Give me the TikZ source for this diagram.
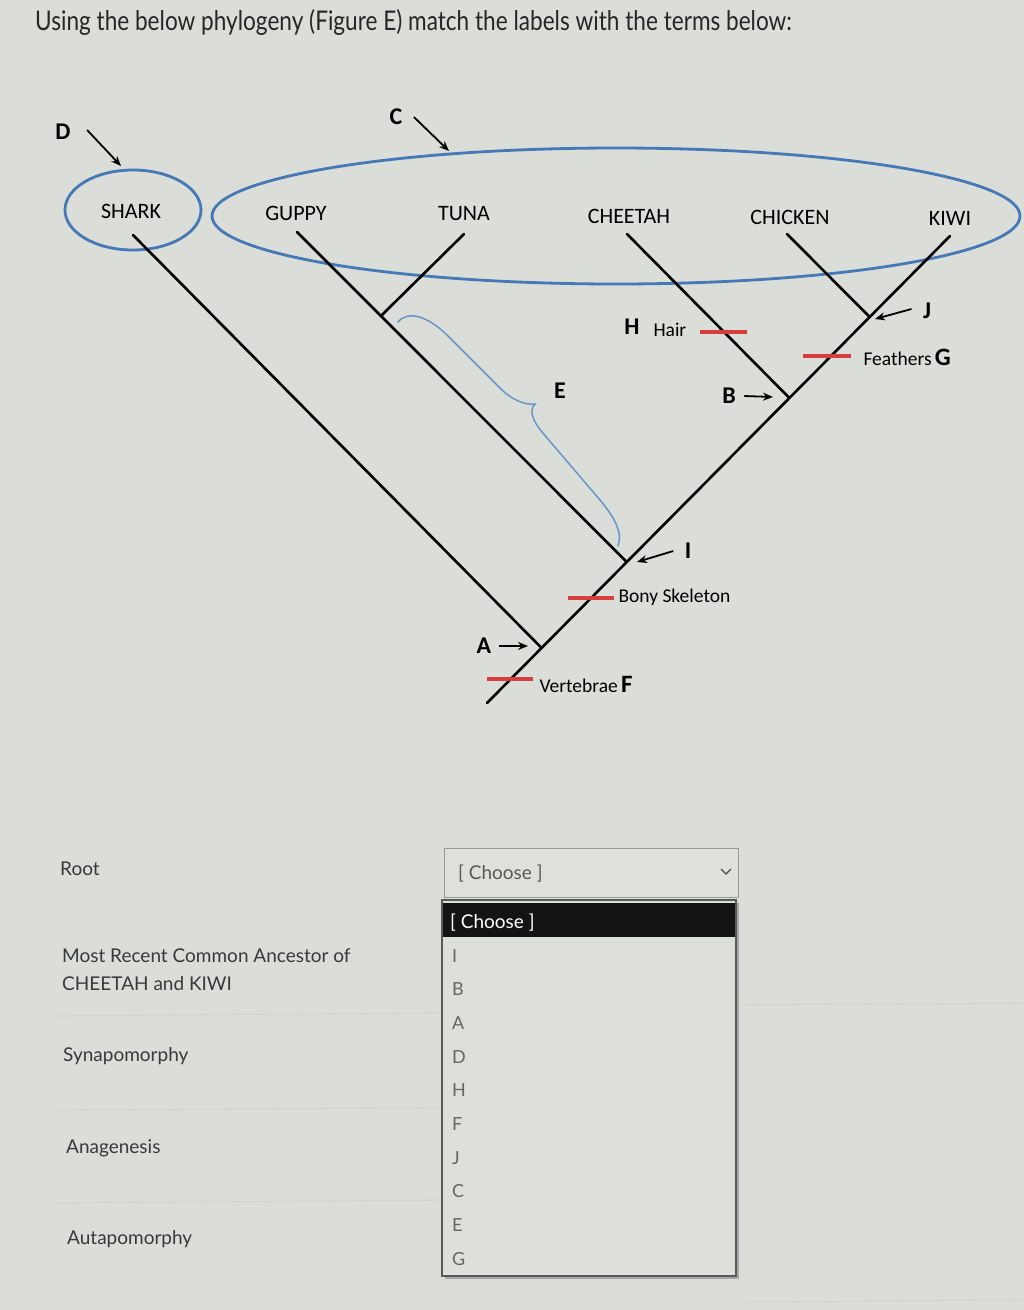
\documentclass[tikz,border=0pt]{standalone}
\usepackage{fontspec}
\setmainfont{Lato}
\newfontfamily\carl{Carlito}
\usetikzlibrary{arrows.meta}
\definecolor{bg}{RGB}{218,221,216}
\definecolor{clade}{RGB}{70,120,182}
\definecolor{bracec}{RGB}{105,150,200}
\definecolor{synred}{RGB}{214,62,62}
\definecolor{formtxt}{RGB}{55,58,58}
\tikzset{
  branch/.style={line width=2.6pt, black, line cap=round},
  cladeline/.style={line width=2.8pt, clade},
  synbar/.style={line width=3.2pt, synred},
  ptr/.style={line width=1.8pt, black, -{Stealth[length=10pt,width=8pt]}},
  taxon/.style={font=\carl\fontsize{22}{24}\selectfont},
  charlbl/.style={font=\carl\fontsize{19.5}{22}\selectfont, anchor=west},
  letter/.style={font=\carl\bfseries\fontsize{24}{26}\selectfont},
  formlbl/.style={font=\fontsize{19}{22}\selectfont, text=formtxt, anchor=base west, inner sep=0pt},
  item/.style={font=\fontsize{18}{20}\selectfont, text=black!60, anchor=base west, inner sep=0pt},
  sep/.style={line width=0.8pt, black!18}
}
\begin{document}
\begin{tikzpicture}[x=1pt,y=-1pt]
\fill[bg] (0,0) rectangle (1024,1310);
\useasboundingbox (0,0) rectangle (1024,1310);

% title
\node[anchor=base west, inner sep=0pt, font=\fontsize{22.6}{26}\selectfont, text=black!85] (title) at (35,30)
  {\scalebox{1}[1.2]{Using the below phylogeny (Figure E) match the labels with the terms below:}};

% clade ellipses
\draw[cladeline] (133,210) ellipse [x radius=68, y radius=40];
\draw[cladeline] (616,216) ellipse [x radius=404, y radius=68];

% tree coordinates
\coordinate (root) at (487,703);
\coordinate (kiwi) at (950,236);
\coordinate (nA) at (541.6,648);
\coordinate (nI) at (626.8,562);
\coordinate (nB) at (789.4,398);
\coordinate (nJ) at (869.7,317);
\coordinate (shark) at (133,235);
\coordinate (guppy) at (297,232);
\coordinate (tuna) at (464,234);
\coordinate (nT) at (380.9,316);
\coordinate (cheetah) at (627,234);
\coordinate (chicken) at (787,234);

\draw[branch] (root) -- (kiwi);
\draw[branch] (nA) -- (shark);
\draw[branch] (nI) -- (guppy);
\draw[branch] (nT) -- (tuna);
\draw[branch] (nB) -- (cheetah);
\draw[branch] (nJ) -- (chicken);

% taxon labels
\node[taxon] (tShark) at (131,211) {SHARK};
\node[taxon] (tGuppy) at (296,213) {GUPPY};
\node[taxon] (tTuna) at (464,214) {TUNA};
\node[taxon] (tCheetah) at (629,216) {CHEETAH};
\node[taxon] (tChicken) at (790,217) {CHICKEN};
\node[taxon] (tKiwi) at (950,218) {KIWI};

% synapomorphy bars
\draw[synbar] (487,679) -- (533,679);
\draw[synbar] (568,598) -- (614,598);
\draw[synbar] (700,332) -- (747,332);
\draw[synbar] (803,356) -- (851,356);

\node[charlbl] (cVert) at (536,684) {Vertebrae\,{\bfseries\fontsize{25}{26}\selectfont F}};
\node[charlbl] (cBony) at (615,597) {Bony Skeleton};
\node[charlbl] (cHair) at (650,330) {Hair};
\node[letter] (lH) at (632,327) {H};
\node[charlbl] (cFeath) at (860,357) {Feathers\,{\bfseries\fontsize{25}{26}\selectfont G}};

% brace E
\draw[line width=1.5pt, bracec, line cap=round]
  (398,322) .. controls (408,310) and (428,316) .. (448,336)
  -- (500,388) .. controls (512,400) and (524,405) .. (535,404)
  .. controls (529,410) and (532,420) .. (542,432)
  -- (600,500) .. controls (614,517) and (623,532) .. (618,546);

% pointer letters
\node[letter] (lD) at (63,132) {D};
\node[letter] (lC) at (396,117) {C};
\node[letter] (lA) at (484,646) {A};
\node[letter] (lB) at (729,396) {B};
\node[letter] (lI) at (688,551) {I};
\node[letter] (lJ) at (927,311) {J};
\node[letter] (lE) at (560,391) {E};

\coordinate (pD) at (121,166);
\coordinate (pC) at (449,151);
\coordinate (pA) at (528,646);
\coordinate (pB) at (773,397);
\coordinate (pI) at (637,562);
\coordinate (pJ) at (875,319);
\draw[ptr] ([shift={(13,-2)}]lD.east) -- (pD);
\draw[ptr] ([shift={(8,0)}]lC.east) -- (pC);
\draw[ptr] ([shift={(4,0)}]lA.east) -- (pA);
\draw[ptr] ([shift={(5,0)}]lB.east) -- (pB);
\draw[ptr] ([shift={(-8,0)}]lI.west) -- (pI);
\draw[ptr] ([shift={(-8,-2)}]lJ.west) -- (pJ);

% form: separators
\draw[sep] (55,1016) -- (440,1013);
\draw[sep] (55,1110) -- (440,1108);
\draw[sep] (55,1203) -- (440,1200);
\draw[sep] (740,1005) -- (1024,1003);
\draw[sep] (740,1302) -- (1024,1300);

% form labels
\node[formlbl] (fRoot) at (60,875) {Root};
\node[formlbl] (fMrca1) at (62,962) {Most Recent Common Ancestor of};
\node[formlbl] (fMrca2) at (62,990) {CHEETAH and KIWI};
\node[formlbl] (fSyn) at (63,1061) {Synapomorphy};
\node[formlbl] (fAna) at (66,1153) {Anagenesis};
\node[formlbl] (fAut) at (67,1244) {Autapomorphy};

% select box
\draw[black!40, line width=0.8pt, fill=bg!92!white] (444,848) rectangle (738,897);
\node[formlbl, text=black!65] (selText) at (458,879) {[ Choose ]};
\draw[black!70, line width=1.2pt] (721,869) -- (726,874) -- (731,869);

% dropdown list
\fill[black!35] (445,903) rectangle (739,1279);
\draw[black!65, line width=1.4pt, fill=bg!94!white] (442,900) rectangle (736,1276);
\fill[black!92] (443,903) rectangle (735,937);
\node[formlbl, text=white] (optChoose) at (450,928) {[ Choose ]};
\foreach \t [count=\i from 0] in {I,B,A,D,H,F,J,C,E,G} {
  \node[item] (opt\t) at (452,{962+33.7*\i}) {\t};
}
\end{tikzpicture}
\end{document}
